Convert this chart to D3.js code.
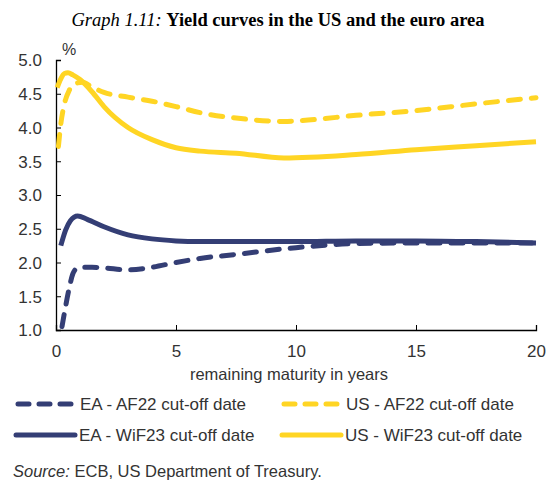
<!DOCTYPE html>
<html>
<head>
<meta charset="utf-8">
<script src="https://d3js.org/d3.v7.min.js"></script>
<style>
  body { margin: 0; background: #fff; }
  text { font-family: "Liberation Sans", "DejaVu Sans", sans-serif; fill: #333; }
</style>
</head>
<body>
<script>
// maturities (years) and yields (%)
var eaAfX  = [0.25, 0.4, 0.55, 0.7, 0.85, 1, 1.5, 2, 3, 4, 5, 6, 7.5, 10, 12.5, 15, 17.5, 20];
var eaAfY  = [1.05, 1.35, 1.62, 1.83, 1.91, 1.93, 1.93, 1.92, 1.89, 1.93, 2.0, 2.06, 2.12, 2.22, 2.28, 2.29, 2.29, 2.29];
var eaWiX  = [0.2, 0.4, 0.6, 0.9, 1.3, 2, 3, 4, 5, 6, 8, 10, 12.5, 15, 17.5, 20];
var eaWiY  = [2.25, 2.48, 2.62, 2.69, 2.64, 2.53, 2.41, 2.35, 2.32, 2.31, 2.31, 2.31, 2.32, 2.32, 2.31, 2.29];
var usAfX  = [0.1, 0.2, 0.35, 0.55, 0.8, 1.1, 1.5, 2, 3, 4, 5, 6, 7.5, 9.5, 10.5, 12.5, 15, 17.5, 20];
var usAfY  = [3.72, 4.05, 4.35, 4.55, 4.65, 4.67, 4.6, 4.52, 4.45, 4.39, 4.31, 4.22, 4.14, 4.09, 4.11, 4.18, 4.25, 4.35, 4.44];
var usWiX  = [0.05, 0.2, 0.35, 0.5, 0.7, 1, 1.5, 2, 3, 4, 5, 6, 7.5, 9.5, 12.5, 15, 17.5, 20];
var usWiY  = [4.59, 4.72, 4.8, 4.81, 4.78, 4.71, 4.53, 4.31, 4.0, 3.82, 3.7, 3.65, 3.62, 3.55, 3.6, 3.67, 3.73, 3.79];
var xTicks = [0, 5, 10, 15, 20];
var yTicks = [1.0, 1.5, 2.0, 2.5, 3.0, 3.5, 4.0, 4.5, 5.0];

var navy = "#343e75", yellow = "#ffd524";

var series = [
  { name: "EA - AF22 cut-off date",  x: eaAfX, y: eaAfY, color: navy,   dash: true },
  { name: "US - AF22 cut-off date",  x: usAfX, y: usAfY, color: yellow, dash: true },
  { name: "EA - WiF23 cut-off date", x: eaWiX, y: eaWiY, color: navy,   dash: false },
  { name: "US - WiF23 cut-off date", x: usWiX, y: usWiY, color: yellow, dash: false }
];

var W = 547, H = 480;
var margin = {top: 60, right: 11, bottom: 150, left: 56};

var svg = d3.select("body").append("svg")
    .attr("width", W).attr("height", H);

var x = d3.scaleLinear().domain([0, 20]).range([margin.left, W - margin.right]);
var y = d3.scaleLinear().domain([1, 5]).range([H - margin.bottom, margin.top]);

// title
var title = svg.append("text")
    .attr("x", 278).attr("y", 26)
    .attr("text-anchor", "middle")
    .style("font-family", "'Liberation Serif', 'DejaVu Serif', serif")
    .style("font-size", "18.5px").style("fill", "#000");
title.append("tspan").style("font-style", "italic").text("Graph 1.11: ");
title.append("tspan").style("font-weight", "bold").text("Yield curves in the US and the euro area");

// axes
var xAxis = svg.append("g")
    .attr("transform", "translate(0," + (H - margin.bottom) + ")")
    .call(d3.axisBottom(x).tickValues(xTicks).tickSize(-5).tickPadding(15).tickFormat(d3.format("d")));
var yAxis = svg.append("g")
    .attr("transform", "translate(" + margin.left + ",0)")
    .call(d3.axisLeft(y).tickValues(yTicks).tickSize(-5).tickPadding(14).tickFormat(d3.format(".1f")));

[xAxis, yAxis].forEach(function(g) {
  g.select(".domain").attr("stroke", "#000").attr("stroke-width", 1.3);
  g.selectAll(".tick line").attr("stroke", "#000");
  g.selectAll(".tick text").style("font-size", "17px").style("fill", "#333")
    .style("font-family", "'Liberation Sans', sans-serif");
});
yAxis.selectAll(".tick text").attr("dy", "0.35em");

svg.append("text")
    .attr("x", 62).attr("y", 55)
    .style("font-size", "16px").text("%");

svg.append("text")
    .attr("x", 289).attr("y", 380)
    .attr("text-anchor", "middle")
    .style("font-size", "16.5px").text("remaining maturity in years");

// curves
var line = d3.line()
    .x(function(d) { return x(d[0]); })
    .y(function(d) { return y(d[1]); })
    .curve(d3.curveMonotoneX);

var order = [1, 3, 2, 0];
order.forEach(function(i) {
  var s = series[i];
  var pts = s.x.map(function(v, j) { return [v, s.y[j]]; });
  svg.append("path")
      .datum(pts)
      .attr("d", line)
      .attr("fill", "none")
      .attr("stroke", s.color)
      .attr("stroke-width", 5)
      .attr("stroke-linecap", s.dash ? "round" : "butt")
      .attr("stroke-dasharray", s.dash ? "12,11" : null);
});

// legend
var leg = svg.append("g");
series.forEach(function(s, i) {
  var col = i % 2, row = Math.floor(i / 2);
  var lx = 16 + col * 266, ly = 404 + row * 31;
  leg.append("line")
      .attr("x1", s.dash ? lx + 2 : lx).attr("x2", s.dash ? lx + 56 : lx + 59)
      .attr("y1", ly).attr("y2", ly)
      .attr("stroke", s.color).attr("stroke-width", 5)
      .attr("stroke-linecap", "round")
      .attr("stroke-dasharray", s.dash ? "11,10" : null);
  leg.append("text")
      .attr("x", lx + (s.dash ? 64 : 63)).attr("y", ly + 6)
      .style("font-size", "17px").text(s.name);
});

// source
var src = svg.append("text")
    .attr("x", 13).attr("y", 477)
    .style("font-size", "16.5px");
src.append("tspan").style("font-style", "italic").text("Source:");
src.append("tspan").text(" ECB, US Department of Treasury.");
</script>
</body>
</html>
